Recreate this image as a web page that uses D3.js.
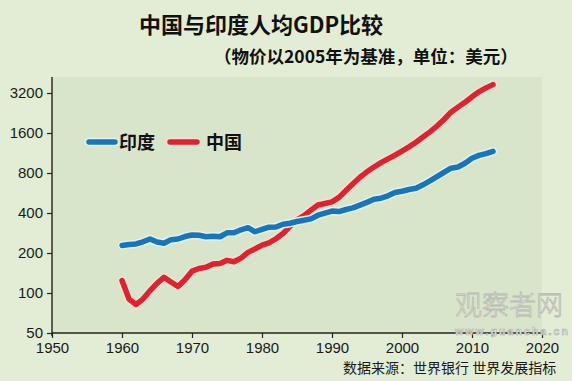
<!DOCTYPE html>
<html><head><meta charset="utf-8">
<script src="https://cdn.jsdelivr.net/npm/d3@7"></script>
<style>
html,body{margin:0;padding:0;background:#e3edd5;}
svg{display:block;}
</style></head>
<body>
<svg id="c" width="572" height="381"></svg>
<script>
const years = d3.range(1960, 2014);
const india = [228,232,234,243,255,242,237,252,255,266,273,272,265,267,265,284,284,299,310,289,
  301,313,314,329,335,345,353,361,385,399,414,410,425,437,458,481,507,517,539,571,
  583,601,614,652,697,751,809,869,888,948,1034,1086,1118,1165];
const china = [124,90,82,90,104,118,131,121,112,126,146,153,156,165,167,176,172,183,202,215,
  229,238,256,280,318,355,382,420,460,472,485,524,591,665,744,816,887,958,1022,1089,
  1170,1258,1364,1491,1631,1804,2021,2295,2505,2724,2995,3266,3497,3700];
const xTicks = [1950,1960,1970,1980,1990,2000,2010,2020];
const yTicks = [50,100,200,400,800,1600,3200];
const seriesNames = ["印度","中国"];

const svg = d3.select("#c");
const L = 52, R = 542, T = 77, B = 333;
const x = d3.scaleLinear().domain([1950, 2020]).range([L, R]);
const y = d3.scaleLog().base(2).domain([50, 50 * Math.pow(2, (B - T) / 40)]).range([B, T]);

svg.append("rect").attr("width",572).attr("height",381).attr("fill","#e3edd5");
svg.append("rect").attr("x",L).attr("y",T).attr("width",R-L).attr("height",B-T).attr("fill","#d9e5ca");

// titles
svg.append("text").attr("x",261).attr("y",33).attr("text-anchor","middle")
  .attr("font-family","'Noto Sans CJK SC'").attr("font-weight","bold").attr("font-size",22)
  .attr("fill","#111").text("中国与印度人均GDP比较");
svg.append("text").attr("x",214).attr("y",63)
  .attr("font-family","'Noto Sans CJK SC'").attr("font-weight","bold").attr("font-size",17.5)
  .attr("fill","#111").text("（物价以2005年为基准，单位：美元）");

// axes
const tickFont = "'Liberation Sans Narrow', 'Liberation Sans', sans-serif";
const yAxis = svg.append("g").attr("transform",`translate(${L},0)`)
  .call(d3.axisLeft(y).tickValues(yTicks).tickFormat(d3.format("d")).tickSize(5).tickPadding(4));
const xAxis = svg.append("g").attr("transform",`translate(0,${B})`)
  .call(d3.axisBottom(x).tickValues(xTicks).tickFormat(d3.format("d")).tickSize(5).tickPadding(4));
[yAxis, xAxis].forEach(g => {
  g.select(".domain").remove();
  g.selectAll("line").attr("stroke","#222").attr("stroke-width",1.2);
  g.selectAll("text").attr("font-family",tickFont).attr("font-size",15).attr("fill","#1a1a1a");
});
svg.append("line").attr("x1",L).attr("x2",L).attr("y1",T).attr("y2",B+3).attr("stroke","#222").attr("stroke-width",1.4);
svg.append("line").attr("x1",L).attr("x2",R).attr("y1",B).attr("y2",B).attr("stroke","#222").attr("stroke-width",1.4);

// lines
const line = d3.line().x((d,i) => x(years[i])).y(d => y(d));
const series = [
  {name: seriesNames[1], data: china, color: "#d6262e", halo: "#f7ddd8"},
  {name: seriesNames[0], data: india, color: "#1d74b5", halo: "#dcf3f7"}
];
series.forEach(s => {
  svg.append("path").attr("d", line(s.data)).attr("fill","none").attr("stroke",s.halo)
    .attr("stroke-width",8.5).attr("stroke-linejoin","round").attr("stroke-linecap","round");
  svg.append("path").attr("d", line(s.data)).attr("fill","none").attr("stroke",s.color)
    .attr("stroke-width",5.5).attr("stroke-linejoin","round").attr("stroke-linecap","round");
});

// legend
const leg = [
  {name: seriesNames[0], color: "#1d74b5", halo: "#dcf3f7", x1: 89, x2: 115, tx: 119},
  {name: seriesNames[1], color: "#d6262e", halo: "#f7ddd8", x1: 170, x2: 197, tx: 206}
];
leg.forEach(l => {
  svg.append("line").attr("x1",l.x1).attr("x2",l.x2).attr("y1",142).attr("y2",142)
    .attr("stroke",l.halo).attr("stroke-width",8.5).attr("stroke-linecap","round");
  svg.append("line").attr("x1",l.x1).attr("x2",l.x2).attr("y1",142).attr("y2",142)
    .attr("stroke",l.color).attr("stroke-width",5.5).attr("stroke-linecap","round");
  svg.append("text").attr("x",l.tx).attr("y",149)
    .attr("font-family","'Noto Sans CJK SC'").attr("font-weight","bold").attr("font-size",18)
    .attr("fill","#111").text(l.name);
});

// watermark
svg.append("text").attr("x",455).attr("y",315)
  .attr("font-family","'Noto Sans CJK SC'").attr("font-size",27).attr("font-weight",300)
  .attr("fill","#f3f5ef").attr("stroke","#b5b8b0").attr("stroke-width",0.8).text("观察者网");
svg.append("text").attr("x",455).attr("y",335).attr("textLength",113)
  .attr("font-family","'Liberation Sans'").attr("font-size",10.5).attr("font-weight","bold")
  .attr("fill","#f3f5ef").attr("stroke","#a8aba3").attr("stroke-width",0.6).text("www.guancha.cn");

// source
svg.append("text").attr("x",343).attr("y",373)
  .attr("font-family","'Noto Sans CJK SC'").attr("font-size",14)
  .attr("fill","#1a1a1a").text("数据来源：世界银行 世界发展指标");
</script>
</body></html>
